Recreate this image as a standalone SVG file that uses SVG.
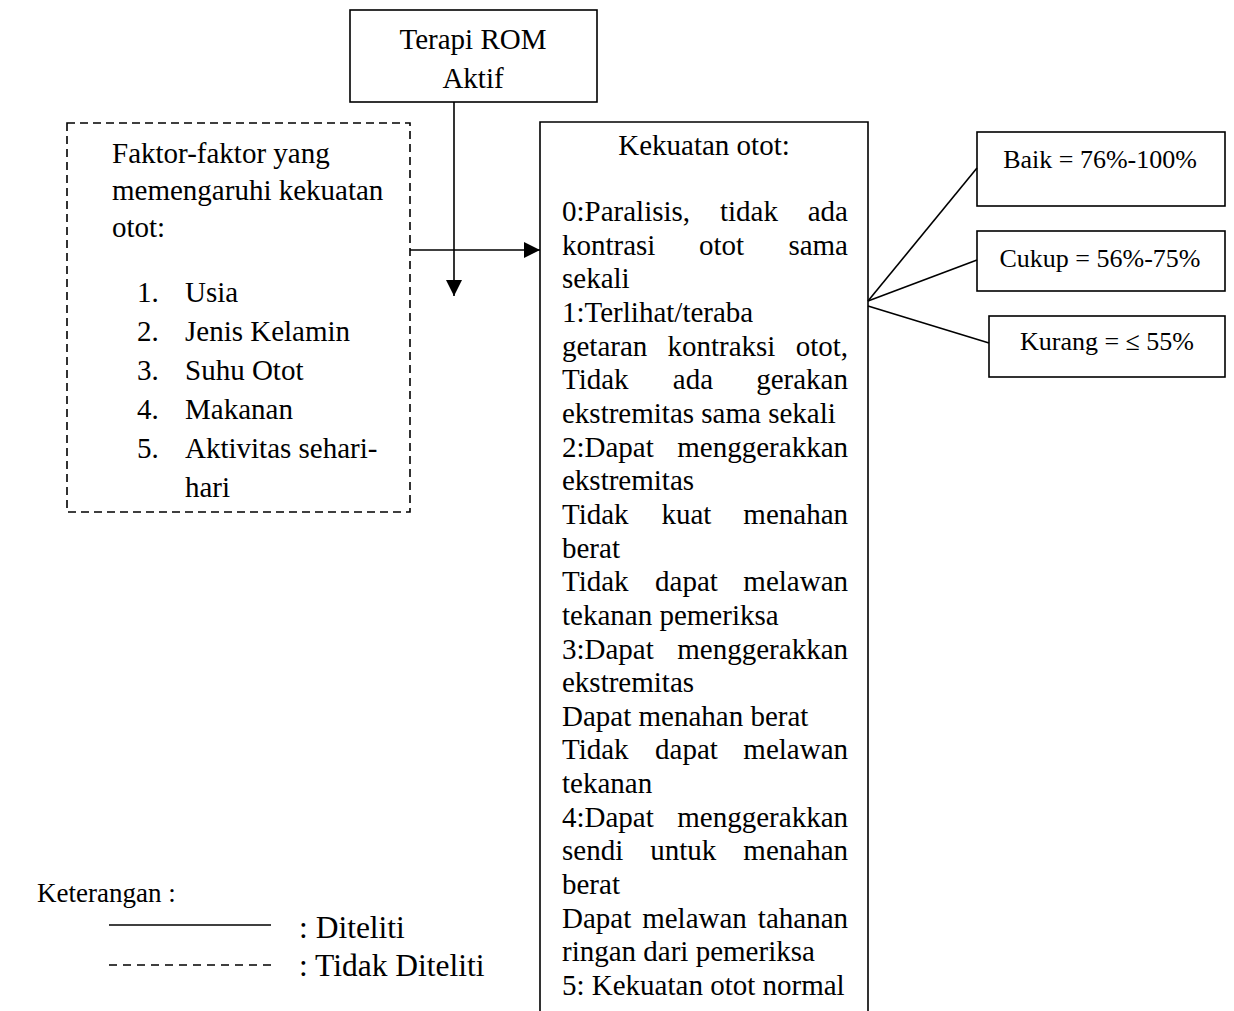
<svg xmlns="http://www.w3.org/2000/svg" width="1234" height="1011" viewBox="0 0 1234 1011">
<style>
text{font-family:"Liberation Serif","Times New Roman",serif;fill:#000}
.t{font-size:29px}
.s{font-size:26px}
.box{fill:#fff;stroke:#000;stroke-width:1.6}
.dash{fill:none;stroke:#000;stroke-width:1.6;stroke-dasharray:8 5}
.ln{fill:none;stroke:#000;stroke-width:1.6}
.e{text-anchor:end}
.m{text-anchor:middle}
</style>
<defs>
<marker id="ah" viewBox="0 0 16 16" refX="16" refY="8" markerWidth="16" markerHeight="16" markerUnits="userSpaceOnUse" orient="auto">
<path d="M0,0 L16,8 L0,16 Z" fill="#000"/>
</marker>
</defs>
<rect width="1234" height="1011" fill="#fff"/>

<g id="terapi">
<rect class="box" x="350" y="10" width="247" height="92"/>
<text class="t m" x="473" y="49">Terapi ROM</text>
<text class="t m" x="473" y="88">Aktif</text>
</g>

<g id="faktor">
<rect class="dash" x="67" y="123" width="343" height="389"/>
<text class="t" x="112" y="163">Faktor-faktor yang</text>
<text class="t" x="112" y="200">memengaruhi kekuatan</text>
<text class="t" x="112" y="237">otot:</text>
<text class="t" x="137" y="302">1.</text><text class="t" x="185" y="302">Usia</text>
<text class="t" x="137" y="341">2.</text><text class="t" x="185" y="341">Jenis Kelamin</text>
<text class="t" x="137" y="380">3.</text><text class="t" x="185" y="380">Suhu Otot</text>
<text class="t" x="137" y="419">4.</text><text class="t" x="185" y="419">Makanan</text>
<text class="t" x="137" y="458">5.</text><text class="t" x="185" y="458">Aktivitas sehari-</text>
<text class="t" x="185" y="497">hari</text>
</g>

<g id="kekuatan">
<path class="ln" d="M540,1011 V122 H868 V1011"/>
<text class="t m" x="704" y="155">Kekuatan otot:</text>
<text class="t" x="562" y="221">0:Paralisis,</text><text class="t" x="720" y="221">tidak</text><text class="t e" x="848" y="221">ada</text>
<text class="t" x="562" y="254.6">kontrasi</text><text class="t" x="699" y="254.6">otot</text><text class="t e" x="848" y="254.6">sama</text>
<text class="t" x="562" y="288.3">sekali</text>
<text class="t" x="562" y="322">1:Terlihat/teraba</text>
<text class="t" x="562" y="355.6">getaran</text><text class="t" x="667.5" y="355.6">kontraksi</text><text class="t e" x="848" y="355.6">otot,</text>
<text class="t" x="562" y="389.3">Tidak</text><text class="t" x="672.8" y="389.3">ada</text><text class="t e" x="848" y="389.3">gerakan</text>
<text class="t" x="562" y="422.9">ekstremitas sama sekali</text>
<text class="t" x="562" y="456.6">2:Dapat</text><text class="t e" x="848" y="456.6">menggerakkan</text>
<text class="t" x="562" y="490.2">ekstremitas</text>
<text class="t" x="562" y="523.9">Tidak</text><text class="t" x="661.5" y="523.9">kuat</text><text class="t e" x="848" y="523.9">menahan</text>
<text class="t" x="562" y="557.5">berat</text>
<text class="t" x="562" y="591.2">Tidak</text><text class="t" x="655.1" y="591.2">dapat</text><text class="t e" x="848" y="591.2">melawan</text>
<text class="t" x="562" y="624.8">tekanan pemeriksa</text>
<text class="t" x="562" y="658.5">3:Dapat</text><text class="t e" x="848" y="658.5">menggerakkan</text>
<text class="t" x="562" y="692.1">ekstremitas</text>
<text class="t" x="562" y="725.8">Dapat menahan berat</text>
<text class="t" x="562" y="759.4">Tidak</text><text class="t" x="655.1" y="759.4">dapat</text><text class="t e" x="848" y="759.4">melawan</text>
<text class="t" x="562" y="793.1">tekanan</text>
<text class="t" x="562" y="826.7">4:Dapat</text><text class="t e" x="848" y="826.7">menggerakkan</text>
<text class="t" x="562" y="860.4">sendi</text><text class="t" x="650.2" y="860.4">untuk</text><text class="t e" x="848" y="860.4">menahan</text>
<text class="t" x="562" y="894">berat</text>
<text class="t" x="562" y="927.7">Dapat</text><text class="t" x="642.2" y="927.7">melawan</text><text class="t e" x="848" y="927.7">tahanan</text>
<text class="t" x="562" y="961.3">ringan dari pemeriksa</text>
<text class="t" x="562" y="995">5: Kekuatan otot normal</text>
</g>

<g id="baik">
<rect class="box" x="977" y="132" width="248" height="74"/>
<text class="s m" x="1100" y="168">Baik = 76%-100%</text>
</g>
<g id="cukup">
<rect class="box" x="977" y="231" width="248" height="60"/>
<text class="s m" x="1100" y="267">Cukup = 56%-75%</text>
</g>
<g id="kurang">
<rect class="box" x="989" y="316" width="236" height="61"/>
<text class="s m" x="1107" y="350">Kurang = ≤ 55%</text>
</g>

<g id="connectors">
<line class="ln" x1="454" y1="102" x2="454" y2="296" marker-end="url(#ah)"/>
<line class="ln" x1="410" y1="250" x2="540" y2="250" marker-end="url(#ah)"/>
<line class="ln" x1="868" y1="301" x2="977" y2="168"/>
<line class="ln" x1="868" y1="301" x2="977" y2="260"/>
<line class="ln" x1="868" y1="306" x2="989" y2="343"/>
</g>

<g id="legend">
<text x="37" y="902" style="font-size:27px">Keterangan :</text>
<line class="ln" x1="109" y1="925" x2="271" y2="925"/>
<text x="299" y="938" style="font-size:31.5px">: Diteliti</text>
<line class="dash" x1="109" y1="965" x2="271" y2="965" style="stroke-dasharray:8 6"/>
<text x="299" y="976" style="font-size:31.5px">: Tidak Diteliti</text>
</g>
</svg>
